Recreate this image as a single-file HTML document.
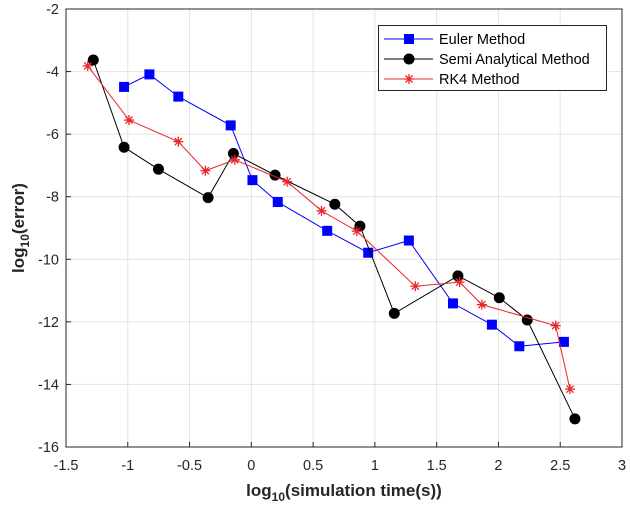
<!DOCTYPE html>
<html><head><meta charset="utf-8"><style>
body{margin:0;background:#fff;}
svg{display:block;font-family:"Liberation Sans",Arial,sans-serif;}
</style></head><body>
<svg id="chart" width="630" height="507" viewBox="0 0 630 507">
<g id="grid"></g>
<g id="series"></g>
<g id="axes"></g>
<text x="344" y="496" text-anchor="middle" font-size="17" font-weight="bold" fill="#262626">log<tspan font-size="12" dy="5">10</tspan><tspan dy="-5">(simulation time(s))</tspan></text>
<text transform="translate(24,228) rotate(-90)" text-anchor="middle" font-size="17" font-weight="bold" fill="#262626">log<tspan font-size="12" dy="5">10</tspan><tspan dy="-5">(error)</tspan></text>
<g>
<rect x="378.5" y="25.5" width="228" height="65" fill="#fff" stroke="#262626" stroke-width="1"/>
<g>
<line x1="384" y1="39" x2="433" y2="39" stroke="#0000ff" stroke-width="1"/>
<rect x="404" y="34" width="10" height="10" fill="#0000ff"/>
<text x="439" y="44" font-size="14.5" fill="#000">Euler Method</text></g>
<g>
<line x1="384" y1="59" x2="433" y2="59" stroke="#000" stroke-width="1"/>
<circle cx="409" cy="59" r="5.5" fill="#000"/>
<text x="439" y="64" font-size="14.5" fill="#000">Semi Analytical Method</text></g>
<g>
<line x1="384" y1="79" x2="433" y2="79" stroke="#e8262a" stroke-width="1"/>
<g stroke="#e8262a" stroke-width="1.3"><line x1="404" y1="79" x2="414" y2="79"/><line x1="409" y1="74" x2="409" y2="84"/><line x1="405.5" y1="75.5" x2="412.5" y2="82.5"/><line x1="412.5" y1="75.5" x2="405.5" y2="82.5"/></g>
<text x="439" y="84" font-size="14.5" fill="#000">RK4 Method</text></g>
</g>
</svg>
<script>
const xTicks=[-1.5,-1,-0.5,0,0.5,1,1.5,2,2.5,3];
const xTickLabels=["-1.5","-1","-0.5","0","0.5","1","1.5","2","2.5","3"];
const yTicks=[-2,-4,-6,-8,-10,-12,-14,-16];
const yTickLabels=["-2","-4","-6","-8","-10","-12","-14","-16"];
const eulerX=[-1.03,-0.825,-0.591,-0.167,0.009,0.214,0.614,0.946,1.275,1.632,1.947,2.169,2.530];
const eulerY=[-4.49,-4.09,-4.80,-5.72,-7.47,-8.17,-9.09,-9.79,-9.40,-11.41,-12.09,-12.78,-12.64];
const semiX=[-1.279,-1.030,-0.752,-0.350,-0.145,0.192,0.676,0.879,1.157,1.672,2.007,2.233,2.619];
const semiY=[-3.63,-6.42,-7.12,-8.03,-6.62,-7.31,-8.24,-8.94,-11.73,-10.53,-11.23,-11.94,-15.10];
const rk4X=[-1.324,-0.990,-0.591,-0.372,-0.134,0.290,0.568,0.854,1.327,1.686,1.866,2.463,2.579];
const rk4Y=[-3.82,-5.55,-6.24,-7.17,-6.82,-7.52,-8.45,-9.10,-10.86,-10.73,-11.45,-12.12,-14.15];

const NS="http://www.w3.org/2000/svg";
const L=66,R=622,T=9,B=447,xmin=-1.5,xmax=3,ymin=-16,ymax=-2;
function sx(v){return L+(v-xmin)/(xmax-xmin)*(R-L);}
function sy(v){return B-(v-ymin)/(ymax-ymin)*(B-T);}
function mk(tag,attrs,parent){const e=document.createElementNS(NS,tag);for(const k in attrs)e.setAttribute(k,attrs[k]);parent.appendChild(e);return e;}
const grid=document.getElementById('grid'),axes=document.getElementById('axes'),series=document.getElementById('series');
xTicks.forEach((t,i)=>{
  const x=sx(t);
  const g=mk('line',{x1:x,y1:T,x2:x,y2:B,stroke:'#e3e3e3','stroke-width':1},grid);
  
  
  const tk=mk('line',{x1:x,y1:B,x2:x,y2:B-5,stroke:'#262626','stroke-width':1},axes);
  
  
  const lb=mk('text',{x:x,y:B+23,'text-anchor':'middle','font-size':14.5,fill:'#262626'},axes);
  lb.textContent=xTickLabels[i];
  
  
});
yTicks.forEach((t,i)=>{
  const y=sy(t);
  const g=mk('line',{x1:L,y1:y,x2:R,y2:y,stroke:'#e3e3e3','stroke-width':1},grid);
  
  
  const tk=mk('line',{x1:L,y1:y,x2:L+5,y2:y,stroke:'#262626','stroke-width':1},axes);
  
  
  const lb=mk('text',{x:L-7,y:y+5,'text-anchor':'end','font-size':14.5,fill:'#262626'},axes);
  lb.textContent=yTickLabels[i];
  
  
});
const frame=mk('rect',{x:L,y:T,width:R-L,height:B-T,fill:'none',stroke:'#262626','stroke-width':1},axes);



function drawSeries(xs,ys,color,kind,name){
  const pts=xs.map((x,i)=>sx(x)+','+sy(ys[i])).join(' ');
  const pl=mk('polyline',{points:pts,fill:'none',stroke:color,'stroke-width':1},series);
  
  
  xs.forEach((x,i)=>{
    const cx=sx(x),cy=sy(ys[i]);let m;
    if(kind==='square'){m=mk('rect',{x:cx-5,y:cy-5,width:10,height:10,fill:color},series);}
    else if(kind==='circle'){m=mk('circle',{cx:cx,cy:cy,r:5.5,fill:color},series);}
    else{m=mk('g',{stroke:color,'stroke-width':1.3},series);
      for(let a=0;a<4;a++){const ang=a*Math.PI/4;const dx=5*Math.cos(ang),dy=5*Math.sin(ang);
        mk('line',{x1:cx-dx,y1:cy-dy,x2:cx+dx,y2:cy+dy},m);}}
    
    
  });
}
drawSeries(eulerX,eulerY,'#0000ff','square','euler');
drawSeries(semiX,semiY,'#000000','circle','semi-analytical');
drawSeries(rk4X,rk4Y,'#e8262a','star','rk4');
</script>
</body></html>
